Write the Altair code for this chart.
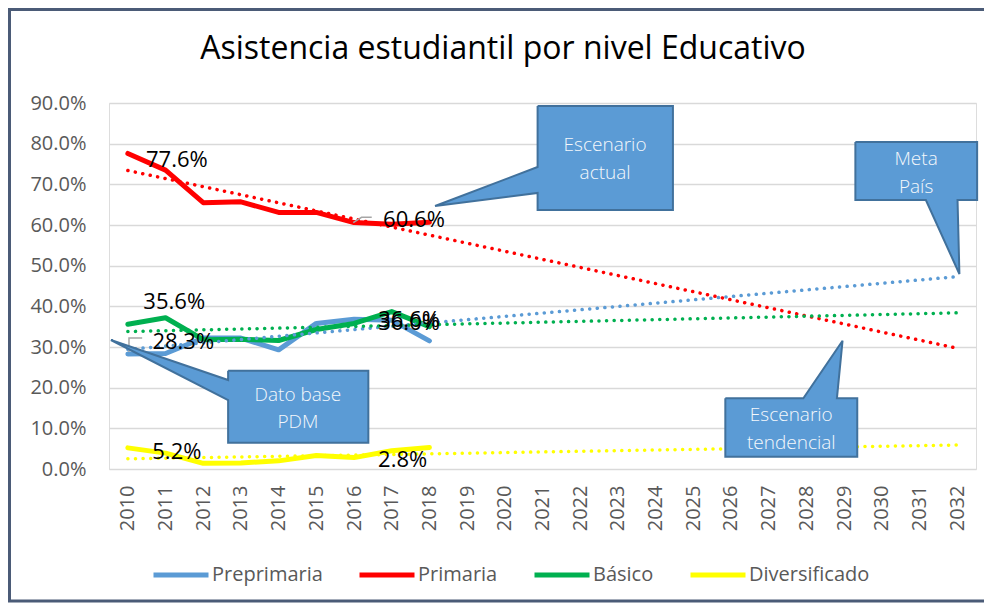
import altair as alt
import pandas as pd

# ---------------- data ----------------
years = [2010, 2011, 2012, 2013, 2014, 2015, 2016, 2017, 2018]
preprimaria = [28.3, 28.4, 32.2, 32.2, 29.3, 35.8, 36.8, 36.6, 31.5]
primaria = [77.6, 73.5, 65.5, 65.7, 63.1, 63.1, 60.6, 60.2, 60.7]
basico = [35.6, 37.2, 31.8, 31.9, 31.6, 34.3, 35.8, 38.7, 35.0]
diversificado = [5.2, 3.9, 1.4, 1.5, 2.0, 3.3, 2.8, 4.5, 5.3]

series_names = ["Preprimaria", "Primaria", "Básico", "Diversificado"]
series_colors = ["#5B9BD5", "#FF0000", "#00B050", "#FFFF00"]

# linear trend lines (start 2010, end 2032)
trend_years = [2010, 2032]
trend_start = [29.4, 73.4, 33.8, 2.5]
trend_end = [47.3, 29.7, 38.4, 5.9]

axis_years = list(range(2010, 2033))
y_ticks = [0, 10, 20, 30, 40, 50, 60, 70, 80, 90]

title_text = "Asistencia estudiantil por nivel Educativo"

# data labels (text, year position, value position)
label_texts = ["77.6%", "60.6%", "35.6%", "28.3%", "36.6%", "36.0%", "5.2%", "2.8%"]
label_x = [2011.30, 2017.59, 2011.23, 2011.47, 2017.46, 2017.46, 2011.30, 2017.29]
label_y = [75.98, 61.23, 41.14, 31.30, 36.52, 35.83, 4.25, 2.21]

# leader lines of two labels
leader_a = [(2010.03, 28.77), (2010.03, 32.21), (2010.38, 32.21)]
leader_b = [(2015.98, 60.57), (2016.20, 61.89), (2016.47, 61.89)]

# callout shapes (year, value) outlines
callout_actual = [(2020.87, 89.26), (2024.46, 89.26), (2024.46, 63.69), (2020.87, 63.69),
                  (2020.87, 67.87), (2018.15, 64.67), (2020.87, 74.26), (2020.87, 89.26)]
callout_meta = [(2029.30, 80.41), (2032.53, 80.41), (2032.53, 66.15), (2032.01, 66.15),
                (2032.06, 47.95), (2031.17, 66.15), (2029.30, 66.15), (2029.30, 80.41)]
callout_tend = [(2025.85, 17.38), (2027.92, 17.38), (2028.96, 31.55), (2028.81, 17.38),
                (2029.35, 17.38), (2029.35, 3.02), (2025.85, 3.02), (2025.85, 17.38)]
callout_pdm = [(2012.66, 24.17), (2016.38, 24.17), (2016.38, 6.47), (2012.66, 6.47),
               (2012.66, 16.97), (2009.55, 31.72), (2012.66, 21.88), (2012.66, 24.17)]

callout_texts = ["Escenario", "actual", "Meta", "País", "Escenario", "tendencial", "Dato base", "PDM"]
callout_text_x = [2022.66, 2022.66, 2030.91, 2030.91, 2027.60, 2027.60, 2014.51, 2014.51]
callout_text_y = [79.67, 72.86, 76.15, 69.42, 13.28, 6.47, 18.20, 11.63]

# ---------------- tables ----------------
rows = []
for name, vals in zip(series_names, [preprimaria, primaria, basico, diversificado]):
    for yr, v in zip(years, vals):
        rows.append({"serie": name, "year": yr, "value": v})
df_lines = pd.DataFrame(rows)

trows = []
for name, a, b in zip(series_names, trend_start, trend_end):
    trows.append({"serie": name, "year": trend_years[0], "value": a})
    trows.append({"serie": name, "year": trend_years[1], "value": b})
df_trend = pd.DataFrame(trows)

df_labels = pd.DataFrame({"text": label_texts, "year": label_x, "value": label_y})

lrows = []
for gid, pts in enumerate([leader_a, leader_b]):
    for i, (x, y) in enumerate(pts):
        lrows.append({"g": gid, "i": i, "year": x, "value": y})
df_leader = pd.DataFrame(lrows)

crows = []
for gid, pts in enumerate([callout_actual, callout_meta, callout_tend, callout_pdm]):
    for i, (x, y) in enumerate(pts):
        crows.append({"g": gid, "i": i, "year": x, "value": y})
df_callout = pd.DataFrame(crows)

df_ctext = pd.DataFrame({"text": callout_texts, "year": callout_text_x, "value": callout_text_y})

# ---------------- chart ----------------
FONT = "Open Sans"
xs = alt.Scale(domain=[2009.5, 2032.5], nice=False, zero=False)
ys = alt.Scale(domain=[0, 90], nice=False, zero=True)
cs = alt.Scale(domain=series_names, range=series_colors)

x_axis = alt.Axis(values=axis_years, format="d", labelAngle=-90, grid=False,
                  domain=False, ticks=False, tickSize=0, labelPadding=16,
                  labelFont=FONT, labelFontSize=20, labelColor="#595959", title=None)
y_axis = alt.Axis(values=y_ticks, labelExpr="format(datum.value, '.1f') + '%'",
                  grid=True, gridColor="#D9D9D9", gridWidth=1.5, domain=False,
                  ticks=False, tickSize=0, labelPadding=23, labelFont=FONT,
                  labelFontSize=20, labelColor="#595959", title=None)

X = alt.X("year:Q", scale=xs, axis=x_axis)
Y = alt.Y("value:Q", scale=ys, axis=y_axis)

lines = alt.Chart(df_lines).mark_line(strokeWidth=5, strokeCap="round", strokeJoin="round").encode(
    x=X, y=Y,
    color=alt.Color("serie:N", scale=cs, sort=series_names,
                    legend=alt.Legend(orient="none", legendX=42, legendY=442, direction="horizontal",
                                      title=None, symbolType="stroke", symbolStrokeWidth=5,
                                      symbolSize=3025, labelFont=FONT, labelFontSize=20,
                                      labelColor="#595959", labelOffset=1, columnPadding=26,
                                      padding=0, labelLimit=400)),
)

trend = alt.Chart(df_trend).mark_line(strokeWidth=3.5, strokeCap="round", strokeDash=[0.1, 7.5]).encode(
    x=X, y=Y,
    color=alt.Color("serie:N", scale=cs, legend=None),
)

leaders = alt.Chart(df_leader).mark_line(stroke="#A6A6A6", strokeWidth=1.5).encode(
    x=X, y=Y, detail="g:N", order="i:Q",
)

labels = alt.Chart(df_labels).mark_text(font=FONT, fontSize=22, color="#000000",
                                        align="center", baseline="middle").encode(
    x=X, y=Y, text="text:N",
)

callouts = alt.Chart(df_callout).mark_line(fill="#5B9BD5", stroke="#41719C", strokeWidth=2,
                                           strokeJoin="miter").encode(
    x=X, y=Y, detail="g:N", order="i:Q",
)

ctext = alt.Chart(df_ctext).mark_text(font=FONT, fontSize=19, fontWeight=300, color="#F4F8FC",
                                      align="center", baseline="middle").encode(
    x=X, y=Y, text="text:N",
)

one = pd.DataFrame({"k": [0]})
title = alt.Chart(one).mark_text(text=title_text, font=FONT, fontSize=32, color="#000000",
                                 align="center", baseline="middle").encode(
    x=alt.value(394), y=alt.value(-54))

frame = alt.Chart(one).mark_rect(fillOpacity=0, stroke="#4B5B77", strokeWidth=3).encode(
    x=alt.value(-99.5), x2=alt.value(900), y=alt.value(-93.5), y2=alt.value(498))

chart = alt.layer(lines, trend, leaders, labels, callouts, ctext, title, frame).properties(
    width=867, height=366,
    autosize=alt.AutoSizeParams(type="none"),
    padding={"left": 101, "top": 95, "right": 8, "bottom": 134},
).configure_view(strokeWidth=0, stroke="transparent").configure(background="white")

chart.save("out.html", embed_options={"renderer": "svg", "actions": False})
